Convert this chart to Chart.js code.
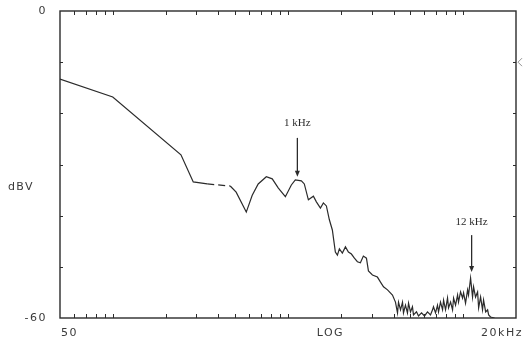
<!DOCTYPE html>
<html><head><meta charset="utf-8">
<script src="https://cdn.jsdelivr.net/npm/chart.js@4/dist/chart.umd.min.js"></script>
<style>html,body{margin:0;padding:0;background:#fff}#wrap{width:523px;height:345px}</style>
</head><body><div id="wrap"><canvas id="c" width="523" height="345"></canvas></div>
<script>
// Frequency (Hz) and level (dBV)
const freqHz = [50,100,245,288,346,468,506,578,625,676,752,813,881,966,1045,1101,1192,1239,1307,1396,1452,1531,1592,1656,1722,1791,1863,1914,1964,2042,2127,2212,2301,2393,2489,2589,2692,2803,2877,3033,3238,3372,3507,3697,3946,4104,4216,4272,4386,4502,4560,4680,4805,4874,5000,5130,5200,5410,5555,5780,6012,6252,6502,6680,6763,6948,7130,7227,7418,7620,7723,7925,8134,8244,8469,8690,8808,9037,9284,9397,9654,9908,10043,10305,10588,10718,11013,11300,11455,11752,12073,12240,12559,12882,13058,13427,13772,13961,14320,15100];
const levelDbv = [-13.3,-16.8,-28.1,-33.4,-33.8,-34.2,-35.4,-39.3,-36.0,-33.8,-32.4,-32.8,-34.6,-36.3,-34.0,-33.0,-33.2,-33.8,-36.9,-36.2,-37.3,-38.5,-37.5,-38.1,-40.8,-42.8,-47.1,-47.7,-46.5,-47.3,-46.1,-47.1,-47.5,-48.3,-49.0,-49.2,-47.9,-48.3,-50.8,-51.6,-52.0,-53.0,-53.9,-54.5,-55.5,-56.9,-59.0,-56.9,-58.4,-56.9,-59.0,-57.5,-59.0,-57.1,-58.8,-57.8,-59.4,-58.8,-59.6,-59.0,-59.6,-58.8,-59.4,-58.4,-57.8,-59.0,-57.5,-58.8,-56.9,-58.4,-56.5,-58.4,-56.1,-58.0,-56.9,-58.4,-56.1,-57.5,-55.5,-56.9,-54.9,-56.1,-55.1,-57.1,-54.5,-55.5,-52.2,-55.9,-53.9,-55.9,-54.9,-58.0,-55.9,-58.4,-56.5,-58.8,-58.4,-59.4,-59.8,-60.0];

// Axis ticks and labels
const yTickValues = [0,-10,-20,-30,-40,-50,-60];
const yMinLabel = '-60';
const yMaxLabel = '0';
const yAxisTitle = 'dBV';
const xTickValues = [60,70,80,90,100,200,300,400,500,600,700,800,900,1000,2000,3000,4000,5000,6000,7000,8000,9000,10000];
const xMinLabel = '50';
const xMidLabel = 'LOG';
const xMaxLabel = '20kHz';

// Annotated peaks
const markerLabels = ['1 kHz','12 kHz'];
const markerFreqs = [1131,11164];
const markerTextDb = [-21.9,-41.2];
const markerTailDb = [-24.8,-43.8];
const markerTipDb = [-32.4,-51.0];

const INK = '#2b2b2b';

const overlay = {
  id: 'overlay',
  afterDatasetsDraw(chart) {
    const {ctx, chartArea: a, scales: {x, y}} = chart;
    const seg = (x1,y1,x2,y2)=>{ctx.beginPath();ctx.moveTo(x1,y1);ctx.lineTo(x2,y2);ctx.stroke();};
    ctx.save();
    ctx.strokeStyle = INK;
    ctx.lineWidth = 1.4;
    ctx.strokeRect(a.left, a.top, a.right - a.left, a.bottom - a.top);
    ctx.lineWidth = 1;
    xTickValues.forEach(v => {
      const px = Math.round(x.getPixelForValue(v)) + 0.5;
      seg(px, a.top, px, a.top + 4);
      seg(px, a.bottom, px, a.bottom - 4);
    });
    yTickValues.forEach(v => {
      if (v === 0 || v === -60) return;
      const py = Math.round(y.getPixelForValue(v)) + 0.5;
      seg(a.left, py, a.left + 3, py);
      seg(a.right, py, a.right - 3, py);
    });
    // right-side level marker
    const my = y.getPixelForValue(-10);
    ctx.lineWidth = 0.8; ctx.strokeStyle = '#777';
    ctx.beginPath(); ctx.moveTo(a.right + 6, my - 4); ctx.lineTo(a.right + 2, my); ctx.lineTo(a.right + 6, my + 4); ctx.stroke();

    // axis texts
    ctx.fillStyle = '#3a3a3a';
    ctx.font = '11px "DejaVu Sans"';
    try { ctx.letterSpacing = '1.5px'; } catch(e) {}
    ctx.textBaseline = 'middle';
    ctx.textAlign = 'right';
    ctx.fillText(yMaxLabel, a.left - 13, y.getPixelForValue(0));
    ctx.fillText(yMinLabel, a.left - 13, y.getPixelForValue(-60));
    ctx.textAlign = 'center';
    ctx.fillText(yAxisTitle, 21, y.getPixelForValue(-34.5));
    const ly = a.bottom + 15;
    ctx.textAlign = 'left';
    ctx.fillText(xMinLabel, a.left + 1, ly);
    ctx.textAlign = 'center';
    ctx.fillText(xMidLabel, x.getPixelForValue(1746), ly);
    ctx.textAlign = 'right';
    ctx.fillText(xMaxLabel, 523, ly);

    // annotations
    try { ctx.letterSpacing = '0px'; } catch(e) {}
    ctx.font = '11px "Liberation Serif"';
    ctx.fillStyle = INK; ctx.strokeStyle = INK; ctx.lineWidth = 1.3;
    markerLabels.forEach((t, i) => {
      const px = x.getPixelForValue(markerFreqs[i]);
      ctx.textAlign = 'center';
      ctx.fillText(t, px, y.getPixelForValue(markerTextDb[i]));
      const y1 = y.getPixelForValue(markerTailDb[i]);
      const y2 = y.getPixelForValue(markerTipDb[i]);
      seg(px, y1, px, y2 - 5);
      ctx.beginPath(); ctx.moveTo(px - 2.5, y2 - 6); ctx.lineTo(px + 2.5, y2 - 6); ctx.lineTo(px, y2); ctx.closePath(); ctx.fill();
    });
    ctx.restore();
  }
};

new Chart(document.getElementById('c'), {
  type: 'line',
  data: {
    datasets: [{
      data: freqHz.map((f, i) => ({x: f, y: levelDbv[i]})),
      borderColor: INK,
      borderWidth: 1.2,
      pointRadius: 0,
      tension: 0,
      fill: false,
      segment: { borderDash: c => (c.p0DataIndex === 4 ? [7, 4] : undefined) }
    }]
  },
  options: {
    responsive: false,
    animation: false,
    events: [],
    layout: { padding: { left: 60, right: 7, top: 11, bottom: 27 } },
    plugins: { legend: { display: false }, tooltip: { enabled: false } },
    scales: {
      x: { type: 'logarithmic', min: 50, max: 20000, display: false },
      y: { type: 'linear', min: -60, max: 0, display: false }
    }
  },
  plugins: [overlay]
});
</script></body></html>
